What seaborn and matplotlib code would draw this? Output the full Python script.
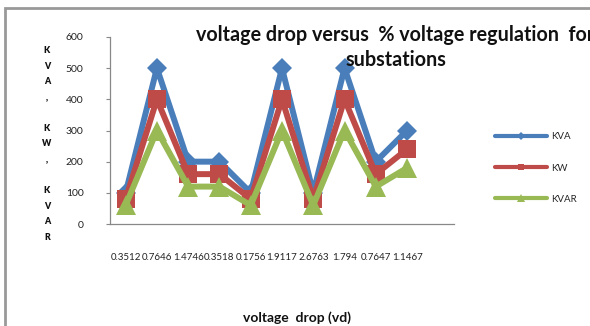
import matplotlib
matplotlib.use("Agg")
import matplotlib.pyplot as plt
import seaborn as sns
import pandas as pd
import numpy as np
from matplotlib.patches import Rectangle

categories = ["0.3512", "0.7646", "1.4746", "0.3518", "0.1756",
              "1.9117", "2.6763", "1.794", "0.7647", "1.1467"]
kva = [100, 500, 200, 200, 100, 500, 100, 500, 200, 300]
kw = [80, 400, 160, 160, 80, 400, 80, 400, 160, 240]
kvar = [60, 300, 120, 120, 60, 300, 60, 300, 120, 180]
series_names = ["KVA", "KW", "KVAR"]
yticks = [0, 100, 200, 300, 400, 500, 600]

rows = []
for name, vals in zip(series_names, [kva, kw, kvar]):
    for i, v in enumerate(vals):
        rows.append({"pos": i, "value": v, "series": name})
df = pd.DataFrame(rows)

sns.set_theme(style="white")
plt.rcParams['font.family'] = ['Lato', 'DejaVu Sans']

fig = plt.figure(figsize=(5.9, 3.26), dpi=100)
ax = fig.add_axes([110/590, 1-224/326, (454-110)/590, (224-37)/326])

colors = {"KVA": "#4A7EBB", "KW": "#BE4B48", "KVAR": "#98B954"}
markers = {"KVA": "D", "KW": "s", "KVAR": "^"}
msizes = {"KVA": 10.5, "KW": 12.5, "KVAR": 14}
for name in series_names:
    sub = df[df.series == name]
    sns.lineplot(data=sub, x="pos", y="value", ax=ax, color=colors[name],
                 marker=markers[name], markersize=msizes[name], linewidth=4.3,
                 markeredgewidth=0, label=name, legend=False)

ax.set_xlim(-0.5, 10.5)
ax.set_ylim(0, 600)
ax.set_yticks(yticks)
ax.set_yticklabels([str(t) for t in yticks], fontsize=7.5, color="#222222")
ax.set_xticks(range(len(categories)))
ax.set_xticklabels(categories, fontsize=7, color="#222222")
ax.set_xticks(np.arange(-0.5, 11.0, 1.0), minor=True)
ax.tick_params(axis="x", which="major", length=0, pad=21)
ax.tick_params(axis="x", which="minor", length=3, color="#888888", width=0.8)
ax.tick_params(axis="y", which="major", length=3, color="#888888", width=0.8, pad=16, left=True)
ax.set_xlabel("")
ax.set_ylabel("")
for s in ["top", "right"]:
    ax.spines[s].set_visible(False)
for s in ["left", "bottom"]:
    ax.spines[s].set_color("#888888")
    ax.spines[s].set_linewidth(0.9)

# stacked y label
fig.text(47/590, 1-144/326, "K\nV\nA\n,\n\nK\nW\n,\n\nK\nV\nA\nR", fontsize=6.3,
         fontweight="heavy", ha="center", va="center", linespacing=1.93, color="#111111")

# title (cut at the right edge, as in the reference)
fig.text(196/590, 1-35/326, "voltage drop versus  % voltage regulation  for", fontsize=14.2,
         fontweight="bold", ha="left", va="center", color="#111111")
fig.text(396/590, 1-60/326, "substations", fontsize=14.2,
         fontweight="bold", ha="center", va="center", color="#111111")

# x label
fig.text(297/590, 1-318/326, "voltage  drop (vd)", fontsize=10,
         fontweight="bold", ha="center", va="center", color="#111111")

# legend
handles, labels = ax.get_legend_handles_labels()
leg = fig.legend(handles, labels, loc="center left", bbox_to_anchor=(486/590, 1-168/326),
                 frameon=False, fontsize=7, handlelength=5.4, labelspacing=2.3,
                 markerscale=0.4, handletextpad=0.35)
for line in leg.get_lines():
    line.set_linewidth(3)

# chart frame
fig.patches.append(Rectangle((5/590, -0.05), 1.2, 1-8/326+0.05, transform=fig.transFigure,
                             fill=False, edgecolor="#999999", linewidth=2))

fig.savefig("out.png", dpi=100)
